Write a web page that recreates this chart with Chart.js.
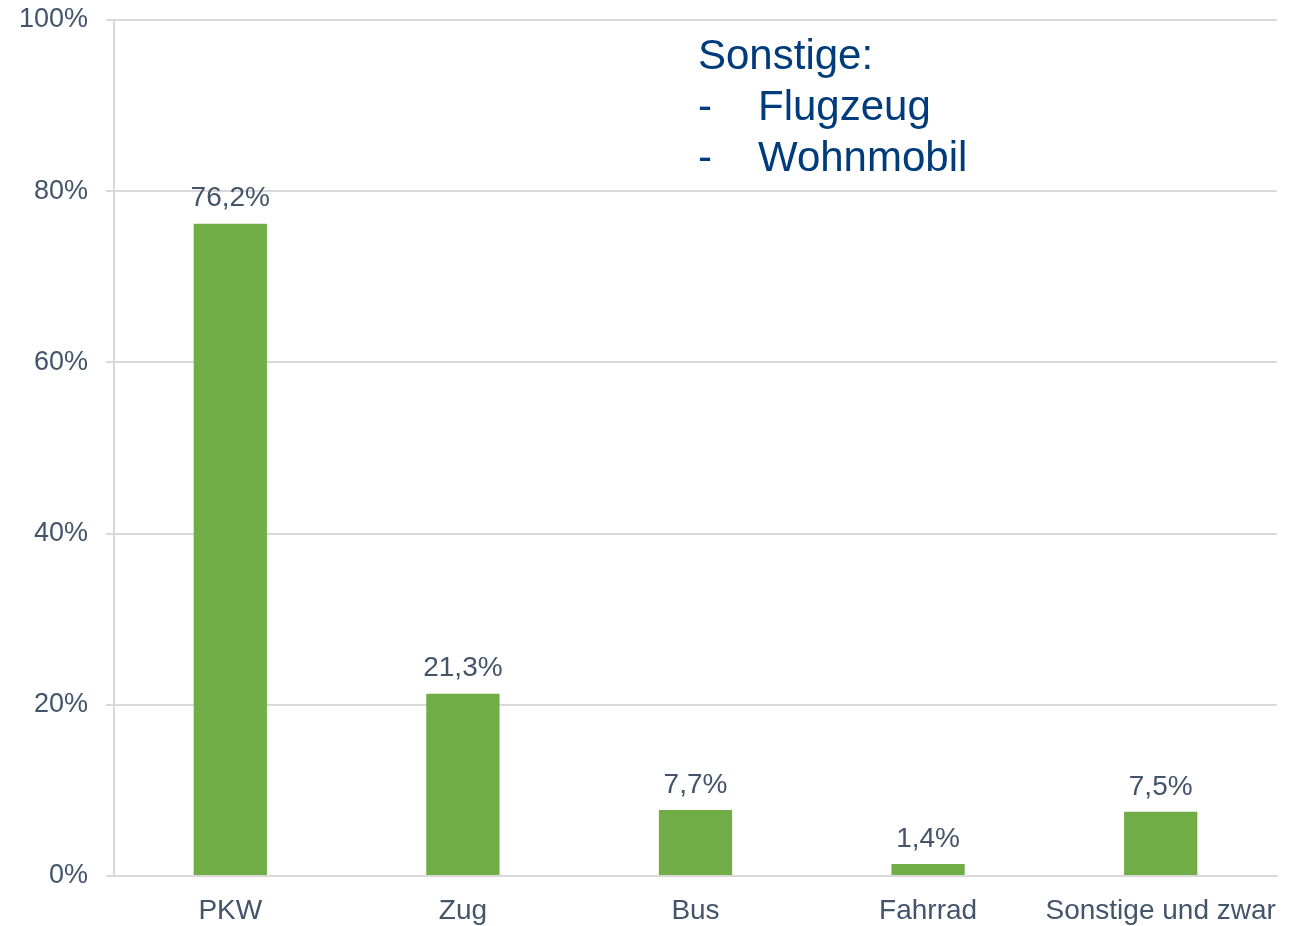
<!DOCTYPE html>
<html>
<head>
<meta charset="utf-8">
<script src="https://cdn.jsdelivr.net/npm/chart.js@4"></script>
<style>
    html, body { margin: 0; padding: 0; background: #fff; }
    #wrap { width: 1296px; height: 926px; }
</style>
</head>
<body>
<div id="wrap"><canvas id="grafico" width="1296" height="926"></canvas></div>
<script>
const labels = ["PKW", "Zug", "Bus", "Fahrrad", "Sonstige und zwar"];
const values = [76.2, 21.3, 7.7, 1.4, 7.5];
const yTicks = [0, 20, 40, 60, 80, 100];
const noteLines = ["Sonstige:", "-\tFlugzeug", "-\tWohnmobil"];

const textColor = "#44546a";
const fontFamily = "'Liberation Sans', Arial, sans-serif";

// Werte über den Balken
const valueLabels = {
    id: "valueLabels",
    afterDatasetsDraw(chart) {
        const ctx = chart.ctx;
        const meta = chart.getDatasetMeta(0);
        ctx.save();
        ctx.font = "28px " + fontFamily;
        ctx.fillStyle = textColor;
        ctx.textAlign = "center";
        ctx.textBaseline = "middle";
        meta.data.forEach((bar, i) => {
            const txt = values[i].toFixed(1).replace(".", ",") + "%";
            ctx.fillText(txt, bar.x, bar.y - 25);
        });
        ctx.restore();
    }
};

// Textfeld "Sonstige"
const note = {
    id: "note",
    afterDraw(chart) {
        const ctx = chart.ctx;
        const area = chart.chartArea;
        const x0 = area.left + 584;
        ctx.save();
        ctx.font = "42px " + fontFamily;
        ctx.fillStyle = "#003b7c";
        ctx.textBaseline = "middle";
        noteLines.forEach((line, i) => {
            const y = area.top + 37 + i * 51;
            const parts = line.split("\t");
            if (parts.length > 1) {
                ctx.fillText(parts[0], x0, y);
                ctx.fillText(parts[1], x0 + 60, y);
            } else {
                ctx.fillText(line, x0, y);
            }
        });
        ctx.restore();
    }
};

const ctx = document.getElementById("grafico").getContext("2d");
const chart = new Chart(ctx, {
    type: "bar",
    data: {
        labels: labels,
        datasets: [{
            data: values,
            backgroundColor: "#70ad47",
            barPercentage: 0.315,
            categoryPercentage: 1
        }]
    },
    options: {
        responsive: false,
        animation: false,
        layout: { padding: { top: 20, right: 19, left: 0, bottom: 0 } },
        plugins: {
            legend: { display: false },
            tooltip: { enabled: false }
        },
        scales: {
            x: {
                grid: { display: false, drawTicks: false },
                border: { display: true, color: "#d9d9d9", width: 2 },
                ticks: {
                    color: textColor,
                    font: { family: fontFamily, size: 28 },
                    maxRotation: 0,
                    autoSkip: false,
                    padding: 18
                },
                afterFit(s) {
                    s.height = 50;
                    s.paddingLeft = 0;
                    s.paddingRight = 0;
                }
            },
            y: {
                min: 0,
                max: 100,
                afterBuildTicks(s) { s.ticks = yTicks.map(v => ({ value: v })); },
                grid: { color: "#d9d9d9", lineWidth: 2, tickLength: 8 },
                border: { display: true, color: "#d9d9d9", width: 2 },
                ticks: {
                    color: textColor,
                    font: { family: fontFamily, size: 27 },
                    padding: 18,
                    callback: v => v + "%"
                },
                afterFit(s) {
                    s.width = 114;
                    s.paddingTop = 0;
                    s.paddingBottom = 0;
                }
            }
        }
    },
    plugins: [valueLabels, note]
});
</script>
</body>
</html>
